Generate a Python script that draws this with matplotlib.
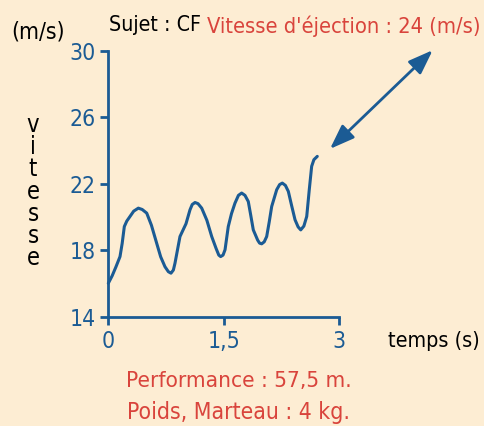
import matplotlib
matplotlib.use("Agg")
import matplotlib.pyplot as plt
from matplotlib import font_manager as fm

# ---- data ----
temps = [0.0, 0.05, 0.1, 0.152, 0.18, 0.208, 0.24, 0.282, 0.33, 0.39, 0.44,
         0.499, 0.56, 0.628, 0.68, 0.736, 0.78, 0.814, 0.845, 0.866, 0.931,
         1.009, 1.061, 1.09, 1.126, 1.165, 1.213, 1.28, 1.343, 1.40, 1.435,
         1.459, 1.49, 1.516, 1.558, 1.60, 1.645, 1.69, 1.732, 1.775, 1.818,
         1.85, 1.883, 1.94, 1.965, 1.992, 2.025, 2.057, 2.09, 2.122, 2.187,
         2.225, 2.26, 2.30, 2.338, 2.38, 2.425, 2.465, 2.499, 2.54, 2.577,
         2.61, 2.641, 2.67, 2.714]
vitesse = [16.0, 16.45, 17.0, 17.61, 18.4, 19.42, 19.75, 20.03, 20.35, 20.53, 20.45,
           20.23, 19.5, 18.42, 17.6, 17.0, 16.7, 16.61, 16.8, 17.21, 18.82,
           19.59, 20.43, 20.75, 20.87, 20.8, 20.53, 19.8, 18.82, 18.1, 17.7,
           17.61, 17.7, 18.02, 19.42, 20.2, 20.83, 21.3, 21.44, 21.3, 20.93,
           20.1, 19.22, 18.6, 18.42, 18.38, 18.5, 18.82, 19.7, 20.63, 21.64,
           21.95, 22.04, 21.9, 21.54, 20.7, 19.83, 19.4, 19.22, 19.45, 20.03,
           21.64, 23.05, 23.45, 23.65]
yticks = [14, 18, 22, 26, 30]
xticks = [0, 1.5, 3]
xticklabels = ["0", "1,5", "3"]
arrow_start = (2.879, 24.10)
arrow_end = (4.213, 30.05)

BLUE = "#1b5b94"
RED = "#d9443c"
BG = "#fdedd3"


def pick_font():
    cond = []
    for f in fm.fontManager.ttflist:
        st = f.stretch
        narrow = False
        if isinstance(st, str):
            narrow = "condensed" in st.lower() or "narrow" in f.name.lower()
        else:
            try:
                narrow = int(st) < 500
            except Exception:
                narrow = False
        if "narrow" in f.name.lower() or "condensed" in f.name.lower():
            narrow = True
        if narrow and f.style == "normal" and f.weight in (400, "normal", "regular", "book"):
            cond.append(f)
    if cond:
        cond.sort(key=lambda f: (0 if "sans" in f.name.lower() else 1, f.name))
        return cond[0].fname
    return None


cond_file = pick_font()
if cond_file:
    fprop = fm.FontProperties(fname=cond_file)
else:
    names = {f.name for f in fm.fontManager.ttflist}
    fam = "Roboto" if "Roboto" in names else "DejaVu Sans"
    fprop = fm.FontProperties(family=fam)

W, H = 485, 426
fig = plt.figure(figsize=(W / 100, H / 100), dpi=100, facecolor=BG)
ax = fig.add_axes([108.3 / W, 1 - 316.5 / H, (339.3 - 108.3) / W, (316.5 - 51) / H])
ax.set_facecolor(BG)

ax.plot(temps, vitesse, color=BLUE, lw=2.2, solid_capstyle="round",
        solid_joinstyle="round", clip_on=False)

ax.set_xlim(0, 3)
ax.set_ylim(14, 30)
ax.set_xticks(xticks)
ax.set_xticklabels(xticklabels)
ax.set_yticks(yticks)
for s in ["top", "right"]:
    ax.spines[s].set_visible(False)
for s in ["left", "bottom"]:
    ax.spines[s].set_color(BLUE)
    ax.spines[s].set_linewidth(2.0)
ax.tick_params(axis="both", colors=BLUE, direction="out", length=6, width=2.0,
               labelcolor=BLUE)
ax.tick_params(axis="y", pad=3)
ax.tick_params(axis="x", pad=4)
for lab in ax.get_xticklabels() + ax.get_yticklabels():
    lab.set_fontproperties(fprop)
    lab.set_fontsize(16.5)

ax.annotate("", xy=arrow_start, xytext=arrow_end, xycoords="data",
            textcoords="data", annotation_clip=False,
            arrowprops=dict(arrowstyle="<|-|>,head_length=1.5,head_width=0.55",
                            color=BLUE, lw=2.0, shrinkA=0, shrinkB=0))

renderer = fig.canvas.get_renderer()
OVER = 1.2


def ftxt(x0, x1, y, s, color="black", size=16.5, anchor="center", xmax=481, xmin=4):
    t = fig.text(x0 / W, 1 - y / H, s, color=color, ha="left", va="center",
                 fontproperties=fprop)
    t.set_fontsize(size)
    w = t.get_window_extent(renderer).width
    target = x1 - x0
    if w > target * OVER:
        t.set_fontsize(size * target * OVER / w)
        w = t.get_window_extent(renderer).width
    if anchor == "center":
        start = (x0 + x1) / 2 - w / 2
    else:
        start = x0 - max(0, w - target) / 2
    start = max(xmin, min(start, xmax - w))
    t.set_x(start / W)
    return t


ftxt(14, 62, 32, "(m/s)")
ftxt(117, 193, 25, "Sujet : CF")
ftxt(252, 480, 26, "Vitesse d'éjection : 24 (m/s)", color=RED)
ftxt(396, 472, 341, "temps (s)")
ftxt(145, 332, 381, "Performance : 57,5 m.", color=RED, anchor="left")
ftxt(145, 332, 413, "Poids, Marteau : 4 kg.", color=RED, anchor="left")

letters = "vitesse"
for i, ch in enumerate(letters):
    t = fig.text(33 / W, 1 - (132 + i * 22.2) / H, ch, ha="center",
                 va="baseline", color="black", fontproperties=fprop)
    t.set_fontsize(17)

fig.savefig("out.png", dpi=100, facecolor=BG)
